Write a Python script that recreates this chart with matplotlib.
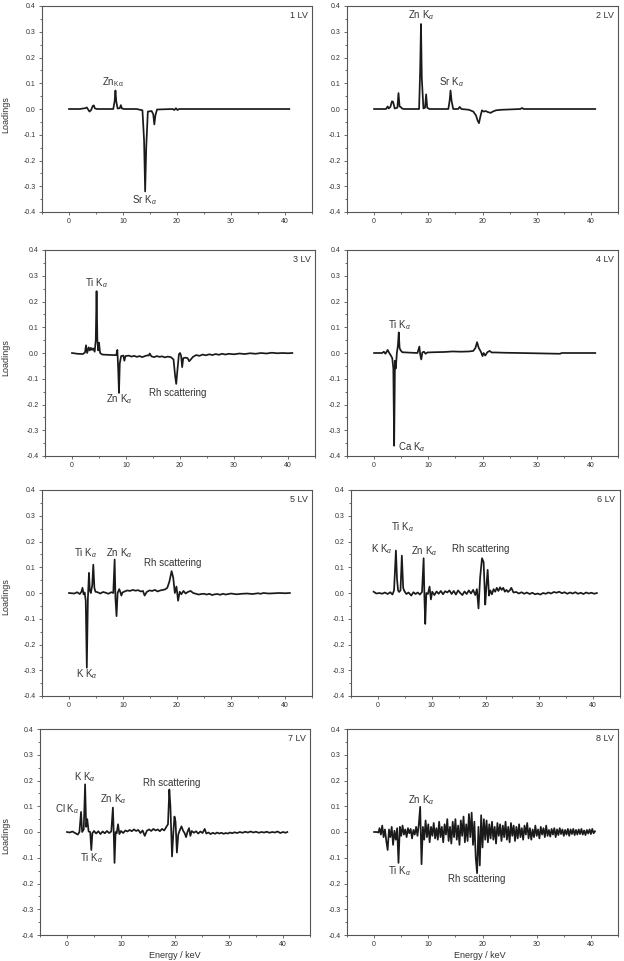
# PLS loadings of XRF spectra, latent variables 1-8

import matplotlib
matplotlib.use('Agg')
import matplotlib.pyplot as plt
from matplotlib.ticker import MultipleLocator

plt.rcParams['font.family'] = ['Liberation Sans', 'DejaVu Sans']
plt.rcParams['axes.unicode_minus'] = False
plt.rcParams['mathtext.fontset'] = 'custom'
plt.rcParams['mathtext.rm'] = 'Liberation Sans'
plt.rcParams['mathtext.it'] = 'Liberation Sans:italic'

# ---- data (energy in keV, loading) ----
e1 = [0, 2.0, 2.6, 3.0, 3.3, 3.6, 3.8, 4.1, 4.4, 4.6,
      4.8, 5.2, 8.2, 8.45, 8.6, 8.75, 9.0, 9.4, 9.6, 9.8,
      10.2, 12.5, 13.6, 13.9, 14.1, 14.3, 14.6, 15.3, 15.6, 15.8,
      16.0, 16.3, 19.2, 19.5, 19.8, 20.1, 20.4, 40.8]
l1 = [0, 0, 0.002, 0.003, 0.006, -0.004, -0.01, -0.004, 0.012, 0.014,
      0.002, 0, 0, 0.03, 0.072, 0.03, 0.002, 0.003, 0.015, 0.002,
      0, 0, -0.005, -0.12, -0.32, -0.15, -0.01, -0.008, -0.02, -0.06,
      -0.025, -0.002, 0, -0.004, 0.003, -0.004, 0, 0]

e2 = [0, 2.2, 2.5, 2.7, 3.0, 3.3, 3.5, 3.8, 4.3, 4.5,
      4.7, 4.9, 5.1, 5.4, 8.3, 8.5, 8.65, 8.8, 9.1, 9.4,
      9.6, 9.8, 10.2, 13.7, 13.95, 14.1, 14.3, 14.6, 15.5, 15.8,
      16.1, 17.5, 18.3, 18.8, 19.1, 19.35, 19.6, 19.9, 20.2, 20.6,
      21.0, 21.5, 21.9, 22.5, 23.5, 27.0, 27.3, 27.6, 40.8]
l2 = [0, 0, 0.01, 0.002, 0.008, 0.03, 0.028, 0.002, 0.005, 0.062,
      0.01, 0.008, 0.003, 0, 0, 0.15, 0.33, 0.12, 0.002, 0.005,
      0.057, 0.005, 0, 0, 0.035, 0.072, 0.03, 0, 0, 0.008,
      0, -0.003, -0.01, -0.025, -0.045, -0.055, -0.03, -0.005, -0.01, -0.008,
      -0.012, -0.015, -0.01, -0.005, -0.003, 0, 0.004, 0, 0]

e3 = [0, 1.0, 2.0, 2.4, 2.6, 2.8, 3.1, 3.3, 3.5, 3.7,
      3.9, 4.2, 4.4, 4.55, 4.7, 4.85, 5.0, 5.2, 5.6, 6.5,
      7.5, 8.2, 8.4, 8.55, 8.7, 8.85, 9.1, 9.5, 9.7, 9.9,
      10.5, 11.0, 11.5, 12.0, 12.5, 13.0, 13.5, 14.0, 14.2, 14.4,
      14.7, 15.2, 15.7, 16.2, 16.7, 17.2, 17.7, 18.3, 18.8, 19.1,
      19.3, 19.55, 19.8, 20.0, 20.2, 20.4, 20.6, 21.0, 21.4, 21.7,
      22.0, 22.4, 23.0, 23.6, 24.2, 24.8, 25.4, 26.0, 26.6, 27.2,
      27.8, 28.4, 29.0, 30.0, 31.0, 32.0, 33.0, 34.0, 35.0, 36.0,
      37.0, 38.0, 39.0, 40.0, 40.8]
l3 = [0, -0.003, -0.004, 0.002, 0.03, 0.0, 0.022, 0.01, 0.02, 0.012,
      0.018, 0.005, 0.05, 0.24, 0.05, 0.01, 0.04, 0.0, -0.006, -0.007,
      -0.008, -0.008, 0.012, -0.06, -0.155, -0.04, -0.012, -0.01, -0.03, -0.012,
      -0.01, -0.014, -0.011, -0.015, -0.012, -0.016, -0.012, -0.009, -0.01, -0.002,
      -0.013, -0.016, -0.012, -0.015, -0.013, -0.017, -0.014, -0.016, -0.025, -0.09,
      -0.12, -0.06, -0.005, 0.0, -0.01, -0.055, -0.02, -0.018, -0.02, -0.032,
      -0.025, -0.015, -0.008, -0.011, -0.006, -0.009, -0.005, -0.008, -0.004, -0.007,
      -0.003, -0.006, -0.003, -0.005, -0.002, -0.004, -0.001, -0.003, 0.0, -0.002,
      0.001, -0.001, 0.0, -0.001, 0.0]

e4 = [0, 1.5, 1.8, 2.1, 2.5, 2.8, 3.1, 3.35, 3.55, 3.7,
      3.85, 4.0, 4.2, 4.4, 4.55, 4.7, 4.9, 5.2, 6.0, 8.0,
      8.35, 8.5, 8.7, 8.9, 9.2, 9.5, 9.8, 11.0, 13.0, 14.5,
      16.0, 17.5, 18.3, 18.7, 19.0, 19.3, 19.7, 20.0, 20.2, 20.5,
      20.9, 21.3, 21.7, 22.5, 24.0, 27.0, 34.3, 34.6, 34.9, 40.8]
l4 = [0, 0, 0.005, -0.003, 0.012, 0.0, -0.01, -0.02, -0.06, -0.36,
      -0.03, -0.06, 0.0, 0.03, 0.08, 0.02, 0.01, 0.003, 0.002, 0,
      0.025, -0.005, -0.025, 0.002, 0.005, -0.003, 0.002, 0.003, 0.004, 0.006,
      0.005, 0.006, 0.008, 0.02, 0.042, 0.02, 0.005, -0.012, 0.0, -0.01,
      0.003, 0.008, 0.002, 0.002, 0.001, 0, -0.003, 0, 0, 0]

e5 = [0, 1.0, 1.5, 2.0, 2.3, 2.5, 2.7, 2.9, 3.1, 3.3,
      3.5, 3.7, 3.85, 4.05, 4.3, 4.5, 4.7, 4.9, 5.3, 5.8,
      6.3, 6.8, 7.3, 7.8, 8.2, 8.45, 8.6, 8.8, 9.0, 9.3,
      9.5, 9.7, 9.9, 10.3, 10.8, 11.3, 11.8, 12.3, 12.8, 13.3,
      13.7, 14.0, 14.4, 14.9, 15.4, 15.9, 16.4, 16.9, 17.4, 17.8,
      18.2, 18.6, 19.0, 19.3, 19.6, 19.9, 20.2, 20.5, 20.8, 21.2,
      21.6, 22.0, 22.5, 23.0, 23.5, 24.0, 24.5, 25.0, 25.5, 26.0,
      26.5, 27.0, 27.5, 28.0, 28.5, 29.0, 29.5, 30.0, 31.0, 32.0,
      33.0, 34.0, 35.0, 35.5, 36.0, 37.0, 38.0, 39.0, 40.0, 40.9]
l5 = [0, -0.002, 0.003, -0.004, 0.005, 0.02, -0.005, 0.002, -0.03, -0.29,
      -0.02, 0.078, 0.01, 0.0, 0.03, 0.11, 0.02, 0.005, 0.003, -0.002,
      0.004, 0.001, -0.003, 0.003, 0.0, 0.13, -0.02, -0.09, 0.0, 0.015,
      0.004, -0.01, 0.002, 0.006, 0.01, 0.008, 0.012, 0.009, 0.011, 0.006,
      0.008, -0.01, 0.004, 0.01, 0.008, 0.012, 0.006, 0.01, 0.012, 0.014,
      0.02, 0.045, 0.085, 0.06, 0.0, 0.025, -0.03, 0.005, -0.005, 0.008,
      -0.002, 0.004, 0.008, 0.0, -0.003, -0.006, -0.004, -0.003, -0.006, -0.003,
      -0.008, -0.005, -0.004, -0.007, -0.003, -0.006, -0.004, -0.002, -0.005, -0.003,
      -0.002, -0.004, -0.001, -0.003, 0.0, -0.002, -0.001, 0.0, -0.001, 0]

e6 = [-0.8, -0.3, 0.3, 0.8, 1.3, 1.8, 2.3, 2.7, 3.0, 3.35,
      3.55, 3.75, 3.95, 4.2, 4.45, 4.7, 4.9, 5.3, 5.7, 6.2,
      6.6, 7.0, 7.4, 7.8, 8.2, 8.5, 8.65, 8.8, 9.0, 9.3,
      9.6, 9.85, 10.1, 10.5, 10.9, 11.3, 11.7, 12.1, 12.5, 12.9,
      13.3, 13.7, 14.1, 14.5, 14.9, 15.3, 15.7, 16.1, 16.5, 16.9,
      17.3, 17.7, 18.1, 18.4, 18.7, 19.0, 19.35, 19.65, 19.95, 20.15,
      20.4, 20.65, 20.9, 21.2, 21.5, 21.8, 22.1, 22.4, 22.7, 23.0,
      23.3, 23.6, 23.9, 24.2, 24.5, 24.8, 25.2, 25.7, 26.2, 26.7,
      27.2, 27.7, 28.2, 28.7, 29.2, 29.7, 30.2, 30.7, 31.2, 31.7,
      32.2, 32.7, 33.2, 33.7, 34.2, 34.7, 35.2, 35.7, 36.2, 36.7,
      37.2, 37.7, 38.2, 38.7, 39.2, 39.7, 40.2, 40.7]
l6 = [0.005, -0.002, 0.0, -0.003, 0.002, -0.004, 0.003, -0.006, 0.01, 0.165,
      0.055, 0.01, 0.004, 0.01, 0.145, 0.02, 0.008, -0.004, 0.002, -0.01,
      0.003, -0.004, 0.002, -0.006, 0.004, 0.135, -0.02, -0.12, 0.0, -0.004,
      0.025, -0.025, 0.005, -0.008, 0.006, -0.003, 0.008, -0.005, 0.007, 0.002,
      0.01, -0.004, 0.008, -0.006, 0.01, 0.0, -0.008, 0.006, -0.004, 0.01,
      -0.002, 0.012, -0.008, 0.015, -0.06, 0.06, 0.135, 0.12, -0.045, 0.02,
      0.09, -0.01, 0.01, -0.005, 0.015, 0.005, 0.02, 0.008, 0.022, 0.012,
      0.02, 0.005, 0.012, 0.004, 0.01, 0.02, 0.002, 0.004, -0.002, 0.003,
      -0.003, 0.002, -0.004, 0.001, -0.005, -0.002, -0.006, 0.0, -0.003, 0.002,
      -0.002, 0.004, 0.001, 0.005, -0.001, 0.003, -0.003, 0.002, -0.002, 0.003,
      -0.003, 0.001, -0.004, 0.002, -0.002, 0.001, -0.003, 0.0]

e7 = [0, 0.5, 1.0, 1.5, 2.0, 2.3, 2.6, 2.8, 3.1, 3.35,
      3.55, 3.75, 4.0, 4.3, 4.5, 4.7, 5.0, 5.4, 5.8, 6.2,
      6.6, 7.0, 7.4, 7.8, 8.2, 8.5, 8.65, 8.8, 9.0, 9.2,
      9.45, 9.7, 10.0, 10.4, 10.8, 11.2, 11.6, 12.0, 12.4, 12.8,
      13.2, 13.6, 14.0, 14.4, 14.8, 15.2, 15.6, 16.0, 16.4, 16.8,
      17.2, 17.6, 18.0, 18.4, 18.7, 18.95, 19.15, 19.45, 19.7, 19.9,
      20.1, 20.35, 20.6, 20.85, 21.2, 21.5, 21.8, 22.05, 22.3, 22.6,
      22.85, 23.1, 23.5, 23.9, 24.3, 24.7, 25.1, 25.5, 25.8, 26.2,
      26.6, 27.0, 27.4, 27.8, 28.2, 28.6, 29.0, 29.4, 29.8, 30.2,
      30.6, 31.0, 31.5, 32.0, 32.5, 33.0, 33.5, 34.0, 34.5, 35.0,
      35.5, 36.0, 36.5, 37.0, 37.5, 38.0, 38.5, 39.0, 39.5, 40.0,
      40.5, 40.8]
l7 = [0, -0.002, 0.002, -0.004, -0.01, 0.0, 0.078, 0.0, 0.01, 0.185,
      0.02, 0.05, 0.002, 0.0, -0.07, -0.005, 0.004, -0.006, 0.003, -0.008,
      0.002, -0.005, 0.004, -0.004, 0.002, 0.095, 0.0, -0.12, 0.0, -0.005,
      0.03, -0.008, 0.004, -0.004, 0.006, 0.002, 0.008, 0.003, 0.01, 0.004,
      0.008, -0.004, 0.006, -0.015, 0.005, 0.01, 0.004, 0.012, 0.006, 0.01,
      0.003, 0.012, 0.006, 0.02, 0.03, 0.165, 0.1, -0.095, 0.0, 0.06,
      0.04, -0.08, -0.01, 0.005, 0.022, 0.005, -0.005, -0.02, 0.0, 0.015,
      -0.015, 0.004, -0.003, 0.003, -0.006, 0.002, -0.004, 0.012, -0.006, -0.002,
      -0.008, -0.003, -0.007, -0.002, -0.006, -0.003, -0.007, -0.004, -0.006, -0.002,
      -0.005, -0.001, -0.004, 0.0, -0.003, 0.001, -0.002, 0.002, -0.002, 0.001,
      -0.003, 0.0, -0.002, 0.001, -0.003, 0.0, -0.002, 0.002, -0.004, 0.0,
      -0.003, 0.0]

e8 = [0, 0.5, 0.8, 1.0, 1.25, 1.5, 1.75, 2.0, 2.25, 2.5,
      2.75, 3.0, 3.25, 3.5, 3.75, 4.0, 4.25, 4.5, 4.75, 5.0,
      5.25, 5.5, 5.75, 6.0, 6.25, 6.5, 6.75, 7.0, 7.25, 7.5,
      7.75, 8.0, 8.25, 8.5, 8.75, 9.0, 9.25, 9.5, 9.75, 10.0,
      10.25, 10.5, 10.75, 11.0, 11.25, 11.5, 11.75, 12.0, 12.25, 12.5,
      12.75, 13.0, 13.25, 13.5, 13.75, 14.0, 14.25, 14.5, 14.75, 15.0,
      15.25, 15.5, 15.75, 16.0, 16.25, 16.5, 16.75, 17.0, 17.25, 17.5,
      17.75, 18.0, 18.25, 18.5, 18.75, 19.0, 19.25, 19.5, 19.75, 20.0,
      20.25, 20.5, 20.75, 21.0, 21.25, 21.5, 21.75, 22.0, 22.25, 22.5,
      22.75, 23.0, 23.25, 23.5, 23.75, 24.0, 24.25, 24.5, 24.75, 25.0,
      25.25, 25.5, 25.75, 26.0, 26.25, 26.5, 26.75, 27.0, 27.25, 27.5,
      27.75, 28.0, 28.25, 28.5, 28.75, 29.0, 29.25, 29.5, 29.75, 30.0,
      30.25, 30.5, 30.75, 31.0, 31.25, 31.5, 31.75, 32.0, 32.25, 32.5,
      32.75, 33.0, 33.25, 33.5, 33.75, 34.0, 34.25, 34.5, 34.75, 35.0,
      35.25, 35.5, 35.75, 36.0, 36.25, 36.5, 36.75, 37.0, 37.25, 37.5,
      37.75, 38.0, 38.25, 38.5, 38.75, 39.0, 39.25, 39.5, 39.75, 40.0,
      40.25, 40.5, 40.75]
l8 = [0, 0, -0.002, 0.015, -0.01, 0.025, -0.02, 0.01, -0.035, -0.07,
      0.01, -0.02, 0.02, -0.05, 0.005, -0.03, 0.015, -0.12, 0.02, -0.015,
      0.025, -0.01, 0.01, -0.02, 0.015, -0.005, 0.012, -0.025, 0.008, -0.01,
      0.02, -0.015, 0.03, 0.098, -0.125, 0.02, -0.03, 0.045, -0.02, 0.03,
      -0.04, 0.02, -0.015, 0.035, -0.025, 0.015, -0.03, 0.04, -0.02, 0.02,
      -0.04, 0.03, -0.01, 0.05, -0.035, 0.02, -0.045, 0.04, -0.02, 0.05,
      -0.03, 0.025, -0.05, 0.045, -0.015, 0.06, -0.04, 0.03, -0.035, 0.07,
      -0.02, 0.075, -0.05, 0.04, -0.1, -0.16, 0.02, -0.13, 0.065, -0.06,
      0.05, -0.03, 0.045, -0.04, 0.03, -0.025, 0.04, -0.03, 0.02, -0.045,
      0.035, -0.015, 0.03, -0.035, 0.025, -0.02, 0.04, -0.03, 0.02, -0.04,
      0.035, -0.015, 0.025, -0.035, 0.02, -0.025, 0.03, -0.02, 0.015, -0.03,
      0.025, -0.01, 0.035, -0.025, 0.015, -0.03, 0.01, -0.02, 0.025, -0.015,
      0.01, -0.025, 0.02, -0.01, 0.015, -0.02, 0.025, -0.015, 0.008, -0.018,
      0.012, -0.01, 0.015, -0.02, 0.01, -0.012, 0.015, -0.008, 0.01, -0.015,
      0.008, -0.01, 0.012, -0.015, 0.01, -0.008, 0.012, -0.012, 0.008, -0.01,
      0.01, -0.008, 0.012, -0.01, 0.006, -0.012, 0.008, -0.006, 0.01, -0.008,
      0.012, -0.005, 0.003]

energies = [e1, e2, e3, e4, e5, e6, e7, e8]
loadings = [l1, l2, l3, l4, l5, l6, l7, l8]
lv_names = ['1 LV', '2 LV', '3 LV', '4 LV', '5 LV', '6 LV', '7 LV', '8 LV']

x_ticks = [0, 10, 20, 30, 40]
y_ticks = [-0.4, -0.3, -0.2, -0.1, 0.0, 0.1, 0.2, 0.3, 0.4]
y_tick_labels = ['-0.4', '-0.3', '-0.2', '-0.1', '0.0', '0.1', '0.2', '0.3', '0.4']

# peak labels: (text, x, y) in data units, left/baseline anchored
ka = r'K$_\alpha$'
peak_labels = [
    [('Zn$_{\\mathrm{K\\alpha}}$', 6.1, 0.092), ('Sr ' + ka, 11.65, -0.365)],
    [('Zn ' + ka, 6.3, 0.352), ('Sr ' + ka, 11.9, 0.092)],
    [('Ti ' + ka, 2.4, 0.258), ('Zn ' + ka, 6.3, -0.193), ('Rh scattering', 14.2, -0.167)],
    [('Ti ' + ka, 2.6, 0.096), ('Ca ' + ka, 4.35, -0.377)],
    [('Ti ' + ka, 1.0, 0.141), ('Zn ' + ka, 6.8, 0.141), ('Rh scattering', 13.9, 0.106),
     ('K ' + ka, 1.3, -0.328)],
    [('K ' + ka, -1.2, 0.157), ('Ti ' + ka, 2.5, 0.245), ('Zn ' + ka, 6.2, 0.152),
     ('Rh scattering', 13.7, 0.158)],
    [('K ' + ka, 1.35, 0.203), ('Cl ' + ka, -2.3, 0.076), ('Zn ' + ka, 6.1, 0.117),
     ('Ti ' + ka, 2.45, -0.114), ('Rh scattering', 14.1, 0.18)],
    [('Zn ' + ka, 6.2, 0.112), ('Ti ' + ka, 2.5, -0.162), ('Rh scattering', 13.7, -0.194)],
]

# axes boxes in pixels: left, top, right, bottom
W, H = 624, 961
boxes = [(42, 6, 312, 212), (347, 6, 618, 212),
         (45, 250, 315, 456), (347, 250, 618, 456),
         (42, 490, 312, 696), (351, 490, 620, 696),
         (40, 729, 310, 935), (347, 729, 618, 935)]

text_col = '#333333'
fig = plt.figure(figsize=(W / 100, H / 100), dpi=100)

for i in range(8):
    l, t, r, b = boxes[i]
    ax = fig.add_axes([l / W, 1 - b / H, (r - l) / W, (b - t) / H])
    ax.plot(energies[i], loadings[i], color='#1a1a1a', lw=1.25)
    ax.set_xlim(-5, 45)
    ax.set_ylim(-0.4, 0.4)
    ax.set_xticks(x_ticks)
    ax.set_yticks(y_ticks)
    ax.set_yticklabels(y_tick_labels)
    ax.xaxis.set_minor_locator(MultipleLocator(5))
    ax.yaxis.set_minor_locator(MultipleLocator(0.05))
    ax.tick_params(which='both', direction='out', colors='#555555',
                   labelcolor=text_col, labelsize=5, width=0.6, pad=2)
    ax.tick_params(which='major', length=2.5)
    ax.tick_params(which='minor', length=1.5)
    for s in ax.spines.values():
        s.set_color('#555555')
        s.set_linewidth(0.8)
    ax.text(0.983, 0.94, lv_names[i], transform=ax.transAxes, ha='right',
            va='baseline', fontsize=6.5, color=text_col)
    for txt, x, y in peak_labels[i]:
        ax.text(x, y, txt, ha='left', va='baseline', fontsize=7, color=text_col)

# shared axis titles
for yc in [115, 358, 597, 836]:
    fig.text(6 / W, 1 - yc / H, 'Loadings', rotation=90, ha='center', va='center',
             fontsize=6.5, color=text_col)
for xc in [175, 480]:
    fig.text(xc / W, 1 - 951 / H, 'Energy / keV', ha='center', va='top',
             fontsize=6.5, color=text_col)

fig.savefig('out.png', dpi=100)
